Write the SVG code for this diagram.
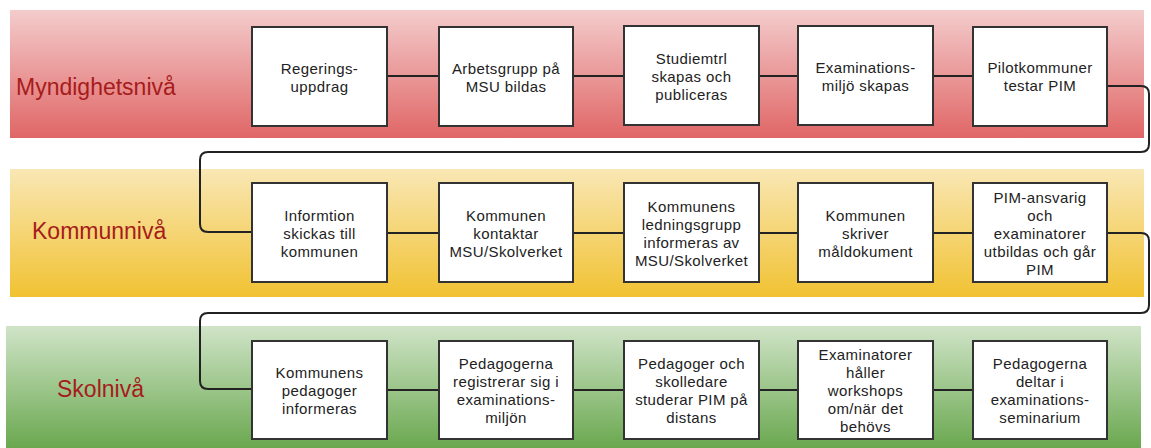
<svg xmlns="http://www.w3.org/2000/svg" width="1151" height="448" viewBox="0 0 1151 448">
<defs>
<linearGradient id="gRed" x1="0" y1="0" x2="0" y2="1"><stop offset="0" stop-color="#f4cccc"/><stop offset="1" stop-color="#e06666"/></linearGradient>
<linearGradient id="gYel" x1="0" y1="0" x2="0" y2="1"><stop offset="0" stop-color="#f9e7b5"/><stop offset="1" stop-color="#f1c232"/></linearGradient>
<linearGradient id="gGrn" x1="0" y1="0" x2="0" y2="1"><stop offset="0" stop-color="#d0e4c8"/><stop offset="1" stop-color="#6aa84f"/></linearGradient>
<style>
.box{fill:#fff;stroke:#333;stroke-width:2}
.t{font-family:"Liberation Sans",Arial,sans-serif;font-size:15px;fill:#222;text-anchor:middle;letter-spacing:0.4px}
.lvl{font-family:"Liberation Sans",Arial,sans-serif;font-size:23px;fill:#a61c1c}
.c{fill:none;stroke:#222;stroke-width:2}
</style>
</defs>
<g id="bands">
<rect x="10" y="10" width="1134" height="128" fill="url(#gRed)"/>
<rect x="10" y="169" width="1134" height="128" fill="url(#gYel)"/>
<rect x="6" y="326" width="1135" height="122" fill="url(#gGrn)"/>
</g>
<g id="labels">
<text class="lvl" x="16" y="95">Myndighetsnivå</text>
<text class="lvl" x="32" y="239">Kommunnivå</text>
<text class="lvl" x="57" y="397">Skolnivå</text>
</g>
<g id="connectors">
<path class="c" d="M387,76 H439 M573,76 H624 M759,76 H798 M933,76 H973"/>
<path class="c" d="M1107,86 H1141 Q1149,86 1149,94 V144 Q1149,152 1141,152 H208 Q200,152 200,160 V224 Q200,232 208,232 H252"/>
<path class="c" d="M387,233 H439 M573,233 H624 M759,233 H798 M933,233 H973"/>
<path class="c" d="M1107,233 H1141 Q1149,233 1149,241 V305 Q1149,313 1141,313 H208 Q200,313 200,321 V381 Q200,389 208,389 H252"/>
<path class="c" d="M387,390 H439 M573,390 H624 M759,390 H798 M933,390 H973"/>
</g>
<g id="n1"><rect class="box" x="252" y="27" width="135" height="99"/><text class="t" x="319.5" y="73.5">Regerings-<tspan x="319.5" dy="18">uppdrag</tspan></text></g>
<g id="n2"><rect class="box" x="439" y="27" width="134" height="99"/><text class="t" x="506" y="73.5">Arbetsgrupp på<tspan x="506" dy="18">MSU bildas</tspan></text></g>
<g id="n3"><rect class="box" x="624" y="26" width="135" height="99"/><text class="t" x="691.5" y="63.5">Studiemtrl<tspan x="691.5" dy="18">skapas och</tspan><tspan x="691.5" dy="18">publiceras</tspan></text></g>
<g id="n4"><rect class="box" x="798" y="26" width="135" height="99"/><text class="t" x="865.5" y="72.5">Examinations-<tspan x="865.5" dy="18">miljö skapas</tspan></text></g>
<g id="n5"><rect class="box" x="973" y="27" width="134" height="99"/><text class="t" x="1040" y="72.5">Pilotkommuner<tspan x="1040" dy="18">testar PIM</tspan></text></g>
<g id="n6"><rect class="box" x="252" y="183" width="135" height="99"/><text class="t" x="319.5" y="220.5">Informtion<tspan x="319.5" dy="18">skickas till</tspan><tspan x="319.5" dy="18">kommunen</tspan></text></g>
<g id="n7"><rect class="box" x="439" y="183" width="134" height="99"/><text class="t" x="506" y="220.5">Kommunen<tspan x="506" dy="18">kontaktar</tspan><tspan x="506" dy="18">MSU/Skolverket</tspan></text></g>
<g id="n8"><rect class="box" x="624" y="183" width="135" height="99"/><text class="t" x="691.5" y="211.5">Kommunens<tspan x="691.5" dy="18">ledningsgrupp</tspan><tspan x="691.5" dy="18">informeras av</tspan><tspan x="691.5" dy="18">MSU/Skolverket</tspan></text></g>
<g id="n9"><rect class="box" x="798" y="183" width="135" height="99"/><text class="t" x="865.5" y="220.5">Kommunen<tspan x="865.5" dy="18">skriver</tspan><tspan x="865.5" dy="18">måldokument</tspan></text></g>
<g id="n10"><rect class="box" x="973" y="183" width="134" height="99"/><text class="t" x="1040" y="202.5">PIM-ansvarig<tspan x="1040" dy="18">och</tspan><tspan x="1040" dy="18">examinatorer</tspan><tspan x="1040" dy="18">utbildas och går</tspan><tspan x="1040" dy="18">PIM</tspan></text></g>
<g id="n11"><rect class="box" x="252" y="341" width="135" height="98"/><text class="t" x="319.5" y="378">Kommunens<tspan x="319.5" dy="18">pedagoger</tspan><tspan x="319.5" dy="18">informeras</tspan></text></g>
<g id="n12"><rect class="box" x="439" y="341" width="134" height="98"/><text class="t" x="506" y="369">Pedagogerna<tspan x="506" dy="18">registrerar sig i</tspan><tspan x="506" dy="18">examinations-</tspan><tspan x="506" dy="18">miljön</tspan></text></g>
<g id="n13"><rect class="box" x="624" y="341" width="135" height="98"/><text class="t" x="691.5" y="369">Pedagoger och<tspan x="691.5" dy="18">skolledare</tspan><tspan x="691.5" dy="18">studerar PIM på</tspan><tspan x="691.5" dy="18">distans</tspan></text></g>
<g id="n14"><rect class="box" x="798" y="341" width="135" height="98"/><text class="t" x="865.5" y="360">Examinatorer<tspan x="865.5" dy="18">håller</tspan><tspan x="865.5" dy="18">workshops</tspan><tspan x="865.5" dy="18">om/när det</tspan><tspan x="865.5" dy="18">behövs</tspan></text></g>
<g id="n15"><rect class="box" x="973" y="341" width="134" height="98"/><text class="t" x="1040" y="369">Pedagogerna<tspan x="1040" dy="18">deltar i</tspan><tspan x="1040" dy="18">examinations-</tspan><tspan x="1040" dy="18">seminarium</tspan></text></g>
</svg>
